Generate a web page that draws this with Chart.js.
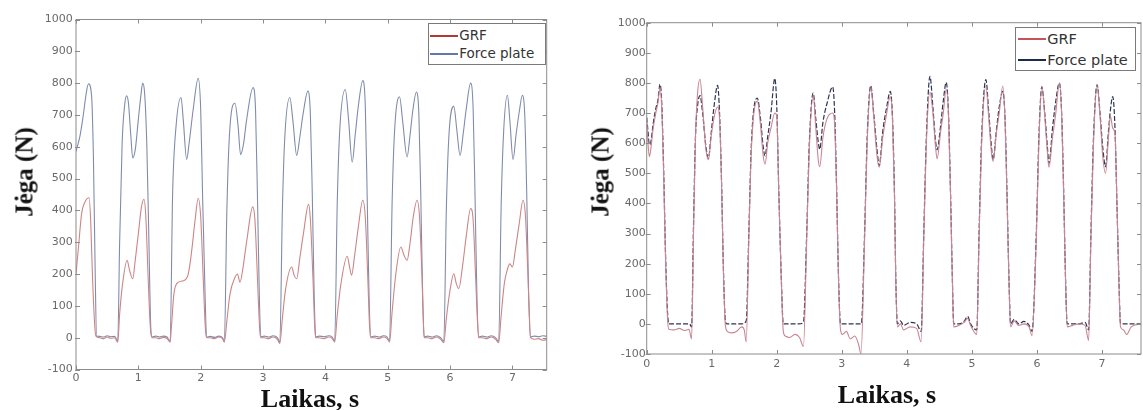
<!DOCTYPE html>
<html>
<head>
<meta charset="utf-8">
<script src="https://cdn.jsdelivr.net/npm/chart.js@4"></script>
<style>
  html, body { margin: 0; padding: 0; background: #fff; }
  #page { position: relative; width: 1143px; height: 410px; overflow: hidden; background: #fff; }
  canvas { position: absolute; top: 0; }
  .axis-title { position: absolute; font-family: "Liberation Serif", "Times New Roman", serif; font-weight: bold; color: #111; white-space: nowrap; line-height: 1; }
  .legend-box { position: absolute; border: 1px solid #7a7a7a; background: #fff; box-sizing: border-box; }
  .legend-line { position: absolute; height: 0; }
  .legend-text { position: absolute; font-family: "DejaVu Sans", sans-serif; color: #333; white-space: nowrap; line-height: 1; transform: translateY(-50%); }
</style>
</head>
<body>
<div id="page">
  <canvas id="left-chart" width="560" height="410" style="left:0"></canvas>
  <canvas id="right-chart" width="568" height="410" style="left:575px"></canvas>
</div>
<script>
(function () {
    "use strict";

    // Time axis ticks (s) and force axis ticks (N)
    const timeTicks = [0, 1, 2, 3, 4, 5, 6, 7];
    const forceTicks = [-100, 0, 100, 200, 300, 400, 500, 600, 700, 800, 900, 1000];
    const seriesNames = ["GRF", "Force plate"];

    // Left plot: estimated GRF vs. force plate, [time s, force N]
    const leftGrf = [
        [0.00, 200], [0.04, 285], [0.09, 390], [0.14, 425], [0.21, 440], [0.235, 370], [0.265, 190], [0.30, 40], [0.32, 5],
        [0.38, 0], [0.44, -3], [0.50, 2], [0.56, -2], [0.62, 0], [0.67, -14],
        [0.70, 74], [0.74, 158], [0.82, 243], [0.86, 211], [0.91, 185], [0.95, 243], [1.00, 327], [1.05, 411], [1.09, 435], [1.12, 380], [1.155, 200], [1.19, 40], [1.215, 0],
        [1.28, 0], [1.34, -3], [1.40, 1], [1.46, -3], [1.51, -14],
        [1.53, 32], [1.57, 137], [1.64, 174], [1.72, 179], [1.80, 200], [1.85, 264], [1.91, 369], [1.96, 438], [2.00, 380], [2.04, 190], [2.075, 30], [2.095, 0],
        [2.15, 0], [2.22, -3], [2.29, 2], [2.35, -3], [2.38, -14],
        [2.42, 53], [2.47, 137], [2.55, 190], [2.59, 200], [2.63, 174], [2.68, 222], [2.74, 306], [2.835, 411], [2.87, 370], [2.91, 190], [2.945, 30], [2.965, 0],
        [3.02, 0], [3.09, -3], [3.16, 2], [3.23, -5], [3.27, -18],
        [3.31, 60], [3.36, 150], [3.46, 222], [3.50, 195], [3.54, 185], [3.59, 250], [3.65, 330], [3.73, 419], [3.76, 370], [3.80, 190], [3.83, 30], [3.845, 0],
        [3.90, 0], [3.98, -3], [4.05, 2], [4.11, -3], [4.15, -14],
        [4.19, 70], [4.25, 170], [4.35, 256], [4.39, 220], [4.42, 196], [4.47, 260], [4.53, 350], [4.60, 432], [4.64, 380], [4.68, 190], [4.71, 30], [4.73, 0],
        [4.79, 0], [4.86, -3], [4.93, 2], [4.99, -3], [5.03, -14],
        [5.07, 80], [5.13, 200], [5.21, 285], [5.26, 260], [5.31, 243], [5.36, 300], [5.41, 380], [5.47, 432], [5.51, 380], [5.55, 190], [5.575, 30], [5.585, 0],
        [5.64, 0], [5.71, -3], [5.78, 2], [5.85, -5], [5.90, -16],
        [5.94, 60], [6.00, 150], [6.06, 201], [6.10, 170], [6.14, 154], [6.20, 225], [6.26, 320], [6.33, 406], [6.37, 370], [6.41, 190], [6.445, 30], [6.46, 0],
        [6.52, 0], [6.59, -3], [6.66, 2], [6.73, -5], [6.78, -16],
        [6.82, 70], [6.87, 170], [6.92, 215], [6.96, 232], [7.00, 222], [7.05, 280], [7.11, 360], [7.17, 432], [7.21, 380], [7.25, 190], [7.28, 30], [7.29, 0],
        [7.35, -5], [7.42, -3], [7.49, -8], [7.55, -6]
    ];
    const leftPlate = [
        [0.00, 585], [0.02, 600], [0.06, 630], [0.11, 690], [0.17, 775], [0.20, 798], [0.25, 760], [0.28, 560], [0.305, 240], [0.33, 5],
        [0.38, 4], [0.44, 2], [0.50, 6], [0.56, 3], [0.62, 4], [0.67, -10],
        [0.70, 300], [0.74, 612], [0.78, 730], [0.81, 760], [0.84, 740], [0.88, 633], [0.91, 565], [0.95, 590], [1.00, 686], [1.04, 760], [1.07, 800], [1.10, 770], [1.135, 612], [1.165, 348], [1.20, 30], [1.22, 2],
        [1.28, 5], [1.34, 2], [1.40, 5], [1.46, 2], [1.51, -12],
        [1.55, 454], [1.605, 665], [1.685, 755], [1.72, 686], [1.775, 560], [1.815, 612], [1.88, 718], [1.96, 815], [2.00, 718], [2.03, 450], [2.07, 137], [2.095, 2],
        [2.15, 4], [2.22, 1], [2.29, 5], [2.35, 0], [2.38, -12],
        [2.42, 400], [2.46, 633], [2.55, 737], [2.60, 665], [2.64, 575], [2.69, 612], [2.73, 675], [2.84, 786], [2.88, 715], [2.91, 450], [2.94, 137], [2.965, 2],
        [3.02, 5], [3.09, 2], [3.16, 6], [3.23, 0], [3.27, -15],
        [3.31, 400], [3.35, 633], [3.43, 755], [3.48, 680], [3.54, 573], [3.59, 630], [3.64, 700], [3.72, 775], [3.76, 700], [3.79, 450], [3.82, 137], [3.845, 2],
        [3.90, 5], [3.98, 3], [4.05, 6], [4.11, 2], [4.15, -10],
        [4.19, 420], [4.23, 650], [4.32, 780], [4.37, 690], [4.43, 552], [4.48, 640], [4.53, 730], [4.60, 808], [4.64, 730], [4.67, 450], [4.70, 137], [4.73, 2],
        [4.79, 5], [4.86, 2], [4.93, 6], [4.99, 2], [5.03, -10],
        [5.07, 420], [5.11, 650], [5.19, 757], [5.24, 680], [5.31, 568], [5.36, 640], [5.40, 710], [5.46, 772], [5.50, 700], [5.53, 450], [5.56, 137], [5.585, 2],
        [5.64, 5], [5.71, 2], [5.78, 6], [5.85, 0], [5.90, -12],
        [5.94, 400], [5.98, 630], [6.06, 727], [6.11, 650], [6.16, 572], [6.21, 640], [6.26, 720], [6.33, 800], [6.37, 720], [6.40, 450], [6.43, 137], [6.46, 2],
        [6.52, 5], [6.59, 2], [6.66, 6], [6.73, 0], [6.78, -12],
        [6.82, 420], [6.86, 650], [6.92, 762], [6.96, 680], [7.01, 560], [7.06, 640], [7.11, 710], [7.16, 762], [7.20, 690], [7.23, 450], [7.26, 137], [7.29, 2],
        [7.35, 5], [7.42, 3], [7.49, 6], [7.55, 4]
    ];

    // Right plot: corrected GRF vs. force plate, [time s, force N]
    const rightGrf = [
        [0.00, 685], [0.02, 600], [0.04, 555], [0.06, 575], [0.10, 650], [0.14, 700], [0.17, 730], [0.205, 785], [0.23, 720], [0.26, 500], [0.29, 210], [0.32, 20], [0.34, -18],
        [0.42, -20], [0.50, -15], [0.58, -22], [0.65, -18], [0.69, -50],
        [0.72, 300], [0.75, 620], [0.78, 760], [0.82, 812], [0.86, 720], [0.91, 580], [0.95, 545], [0.99, 620], [1.04, 690], [1.09, 720], [1.12, 680], [1.15, 470], [1.18, 170], [1.21, -5], [1.24, -25],
        [1.30, -30], [1.38, -25], [1.46, -10], [1.50, -20], [1.53, -60],
        [1.57, 280], [1.61, 580], [1.70, 740], [1.75, 660], [1.79, 560], [1.82, 530], [1.86, 600], [1.91, 650], [1.97, 700], [2.00, 690], [2.03, 440], [2.07, 140], [2.10, -25], [2.13, -40],
        [2.20, -45], [2.28, -35], [2.35, -45], [2.41, -75],
        [2.46, 280], [2.50, 580], [2.56, 760], [2.60, 650], [2.64, 540], [2.66, 522], [2.71, 620], [2.77, 680], [2.86, 700], [2.89, 660], [2.92, 440], [2.95, 140], [2.98, -20], [3.01, -35],
        [3.07, -25], [3.13, -50], [3.20, -40], [3.26, -70], [3.295, -100],
        [3.35, 280], [3.39, 600], [3.445, 790], [3.49, 690], [3.54, 560], [3.575, 520], [3.63, 620], [3.69, 700], [3.745, 755], [3.78, 670], [3.81, 420], [3.83, 140], [3.855, -10],
        [3.90, 0], [3.95, -20], [4.05, -10], [4.15, -15], [4.22, -60],
        [4.26, 280], [4.30, 600], [4.355, 770], [4.40, 700], [4.44, 590], [4.465, 548], [4.52, 640], [4.56, 700], [4.605, 780], [4.64, 690], [4.67, 440], [4.70, 140], [4.72, -10],
        [4.80, -5], [4.88, 5], [4.935, 18], [4.98, -5], [5.075, -35],
        [5.11, 280], [5.15, 600], [5.215, 790], [5.26, 680], [5.30, 570], [5.325, 540], [5.38, 640], [5.42, 700], [5.475, 790], [5.51, 670], [5.54, 420], [5.57, 140], [5.595, -10],
        [5.65, 10], [5.72, -5], [5.80, 0], [5.88, -10], [5.925, -40],
        [5.99, 280], [6.03, 600], [6.075, 790], [6.12, 690], [6.16, 570], [6.185, 520], [6.24, 620], [6.29, 700], [6.345, 800], [6.38, 690], [6.41, 440], [6.44, 140], [6.465, -10],
        [6.55, -5], [6.65, 0], [6.74, -5], [6.795, -55],
        [6.83, 280], [6.87, 600], [6.925, 795], [6.97, 690], [7.01, 560], [7.055, 500], [7.10, 620], [7.13, 690], [7.165, 650], [7.20, 630], [7.23, 400], [7.26, 140], [7.285, -10],
        [7.33, -20], [7.38, -35], [7.45, -10], [7.60, 0]
    ];
    const rightPlate = [
        [0.00, 685], [0.02, 640], [0.04, 595], [0.06, 600], [0.10, 665], [0.14, 715], [0.17, 740], [0.205, 795], [0.23, 740], [0.26, 520], [0.29, 230], [0.32, 40], [0.34, 0],
        [0.42, 0], [0.50, 0], [0.58, 0], [0.66, 0], [0.69, -10],
        [0.72, 330], [0.75, 620], [0.78, 720], [0.82, 758], [0.86, 700], [0.91, 590], [0.95, 550], [0.99, 630], [1.04, 730], [1.09, 792], [1.12, 700], [1.15, 480], [1.18, 180], [1.21, 10], [1.23, 0],
        [1.30, 0], [1.38, 0], [1.46, 0], [1.53, 10],
        [1.57, 300], [1.61, 600], [1.70, 750], [1.75, 680], [1.79, 590], [1.82, 558], [1.86, 620], [1.91, 700], [1.97, 815], [2.00, 720], [2.03, 450], [2.07, 150], [2.10, 0],
        [2.18, 0], [2.26, 0], [2.34, 0], [2.41, 5],
        [2.46, 300], [2.50, 600], [2.56, 766], [2.60, 680], [2.64, 600], [2.66, 580], [2.71, 670], [2.77, 730], [2.86, 787], [2.89, 700], [2.92, 450], [2.95, 150], [2.98, 0],
        [3.06, 0], [3.14, 0], [3.22, 0], [3.30, 0],
        [3.35, 300], [3.39, 620], [3.445, 791], [3.49, 700], [3.54, 580], [3.575, 525], [3.63, 640], [3.69, 720], [3.745, 772], [3.78, 680], [3.81, 430], [3.83, 150], [3.855, 0],
        [3.90, 10], [3.95, -5], [4.05, 5], [4.15, 0], [4.22, -25],
        [4.26, 300], [4.30, 620], [4.355, 822], [4.40, 720], [4.44, 610], [4.465, 578], [4.52, 660], [4.56, 740], [4.605, 802], [4.64, 700], [4.67, 450], [4.70, 150], [4.72, 0],
        [4.80, 0], [4.88, 8], [4.935, 25], [4.98, 0], [5.075, -20],
        [5.11, 300], [5.15, 620], [5.215, 811], [5.26, 700], [5.30, 590], [5.325, 545], [5.38, 650], [5.42, 720], [5.475, 772], [5.51, 680], [5.54, 430], [5.57, 150], [5.595, 0],
        [5.65, 15], [5.72, 0], [5.80, 8], [5.88, -5], [5.925, -25],
        [5.99, 300], [6.03, 620], [6.075, 787], [6.12, 700], [6.16, 590], [6.185, 533], [6.24, 650], [6.29, 740], [6.345, 800], [6.38, 700], [6.41, 450], [6.44, 150], [6.465, 0],
        [6.55, 0], [6.65, 0], [6.74, 5], [6.795, -20],
        [6.83, 300], [6.87, 620], [6.925, 794], [6.97, 700], [7.01, 590], [7.055, 522], [7.10, 640], [7.13, 710], [7.165, 755], [7.20, 650], [7.23, 400], [7.26, 150], [7.285, 0],
        [7.35, 0], [7.45, 0], [7.60, 0]
    ];

    const TICK_FONT = { family: "'DejaVu Sans', sans-serif", size: 11 };
    const TICK_COLOR = '#6a6a6a';
    const FRAME_COLOR = '#8c8c8c';

    /**
     * Draws the boxed axes with short inward ticks on all four sides
     */
    const framePlugin = {
        id: 'frame',
        afterDraw(chart) {
            const ctx = chart.ctx;
            const a = chart.chartArea;
            const xs = chart.scales.x, ys = chart.scales.y;
            const len = 4;
            ctx.save();
            ctx.strokeStyle = FRAME_COLOR;
            ctx.lineWidth = 1;
            ctx.strokeRect(a.left, a.top, a.right - a.left, a.bottom - a.top);
            ctx.beginPath();
            xs.ticks.forEach(t => {
                const px = Math.round(xs.getPixelForValue(t.value)) + 0.5;
                ctx.moveTo(px, a.bottom); ctx.lineTo(px, a.bottom - len);
                ctx.moveTo(px, a.top); ctx.lineTo(px, a.top + len);
            });
            ys.ticks.forEach(t => {
                const py = Math.round(ys.getPixelForValue(t.value)) + 0.5;
                ctx.moveTo(a.left - 1, py); ctx.lineTo(a.left + len, py);
                ctx.moveTo(a.right, py); ctx.lineTo(a.right - len, py);
            });
            ctx.stroke();
            ctx.restore();
        }
    };

    function toPoints(pairs) {
        return pairs.map(p => ({ x: p[0], y: p[1] }));
    }

    /**
     * Builds one of the two force/time plots
     */
    function makeChart(canvasId, grf, plate, cfg) {
        return new Chart(document.getElementById(canvasId), {
            type: 'line',
            data: {
                datasets: [{
                    label: seriesNames[0],
                    data: toPoints(grf),
                    borderColor: cfg.grfColor,
                    borderWidth: 1.1,
                    pointRadius: 0,
                    cubicInterpolationMode: 'monotone'
                },
                {
                    label: seriesNames[1],
                    data: toPoints(plate),
                    borderColor: cfg.plateColor,
                    borderWidth: cfg.plateWidth,
                    borderDash: cfg.plateDash,
                    pointRadius: 0,
                    cubicInterpolationMode: 'monotone'
                }]
            },
            options: {
                responsive: false,
                animation: false,
                layout: { padding: cfg.padding },
                plugins: {
                    legend: { display: false },
                    tooltip: { enabled: false }
                },
                scales: {
                    x: {
                        type: 'linear',
                        min: 0,
                        max: cfg.xMax,
                        afterBuildTicks: scale => { scale.ticks = timeTicks.map(v => ({ value: v })); },
                        afterFit: scale => { scale.height = cfg.xAxisHeight; },
                        grid: { display: false, drawTicks: false },
                        border: { display: false },
                        ticks: {
                            autoSkip: false,
                            maxRotation: 0,
                            padding: cfg.xTickPad,
                            color: TICK_COLOR,
                            font: TICK_FONT,
                            callback: v => String(v)
                        }
                    },
                    y: {
                        min: forceTicks[0],
                        max: forceTicks[forceTicks.length - 1],
                        afterBuildTicks: scale => { scale.ticks = forceTicks.map(v => ({ value: v })); },
                        afterFit: scale => { scale.width = cfg.yAxisWidth; },
                        grid: { display: false, drawTicks: false },
                        border: { display: false },
                        ticks: {
                            padding: cfg.yTickPad,
                            color: TICK_COLOR,
                            font: TICK_FONT,
                            callback: v => String(v)
                        }
                    }
                }
            },
            plugins: [framePlugin]
        });
    }

    /**
     * Adds axis titles and the boxed legend on top of a chart canvas
     */
    function addDecorations(chart, offsetX, cfg) {
        const page = document.getElementById('page');
        const a = chart.chartArea;

        const xt = document.createElement('div');
        xt.className = 'axis-title';
        xt.textContent = 'Laikas, s';
        xt.style.fontSize = '26px';
        xt.style.left = cfg.xTitle[0] + 'px';
        xt.style.top = cfg.xTitle[1] + 'px';
        xt.style.transform = 'translate(-50%, -50%)';
        page.appendChild(xt);

        const yt = document.createElement('div');
        yt.className = 'axis-title';
        yt.textContent = 'Jėga (N)';
        yt.style.fontSize = '25px';
        yt.style.left = cfg.yTitle[0] + 'px';
        yt.style.top = cfg.yTitle[1] + 'px';
        yt.style.transform = 'translate(-50%, -50%) rotate(-90deg)';
        page.appendChild(yt);

        // legend box hangs from the top-right corner of the plot area
        const lg = cfg.legend;
        const boxRight = offsetX + a.right - lg.rightGap;
        const boxLeft = boxRight - lg.width;
        const boxTop = a.top + lg.topGap;
        const box = document.createElement('div');
        box.className = 'legend-box';
        box.style.left = boxLeft + 'px';
        box.style.top = boxTop + 'px';
        box.style.width = lg.width + 'px';
        box.style.height = lg.height + 'px';
        page.appendChild(box);

        chart.data.datasets.forEach((ds, i) => {
            const rowY = boxTop + lg.rows[i];
            const line = document.createElement('div');
            line.className = 'legend-line';
            line.style.left = (boxLeft + 2.5) + 'px';
            line.style.top = (rowY - lg.lineW / 2) + 'px';
            line.style.width = lg.lineLen + 'px';
            line.style.borderTop = lg.lineW + 'px solid ' + lg.colors[i];
            page.appendChild(line);

            const txt = document.createElement('div');
            txt.className = 'legend-text';
            txt.textContent = ds.label;
            txt.style.fontSize = lg.fontSize + 'px';
            txt.style.left = (boxLeft + 2.5 + lg.lineLen + 1) + 'px';
            txt.style.top = rowY + 'px';
            page.appendChild(txt);
        });
    }

    window.addEventListener('load', init);

    function init() {
        const left = makeChart('left-chart', leftGrf, leftPlate, {
            grfColor: '#cc8585',
            plateColor: '#7f8cab',
            plateWidth: 1.1,
            plateDash: [],
            xMax: 7.55,
            padding: { top: 19.5, right: 13.3, bottom: 0, left: 0 },
            xAxisHeight: 40.5,
            yAxisWidth: 76,
            xTickPad: 2.5,
            yTickPad: 3.3
        });
        addDecorations(left, 0, {
            xTitle: [310, 399],
            yTitle: [24, 172],
            legend: {
                width: 118, height: 42.5, rightGap: 1, topGap: 3.2,
                rows: [13.3, 31.6], lineLen: 28, lineW: 2.5, fontSize: 13.5,
                colors: ['#b23a35', '#5f78ad']
            }
        });

        const right = makeChart('right-chart', rightGrf, rightPlate, {
            grfColor: '#c98592',
            plateColor: '#2e3552',
            plateWidth: 1.2,
            plateDash: [5, 2],
            xMax: 7.6,
            padding: { top: 22.7, right: 2, bottom: 0, left: 0 },
            xAxisHeight: 56,
            yAxisWidth: 71.7,
            xTickPad: 4,
            yTickPad: 1
        });
        addDecorations(right, 575, {
            xTitle: [887, 395],
            yTitle: [599.5, 172],
            legend: {
                width: 120.7, height: 44.3, rightGap: 5.3, topGap: 4,
                rows: [12.6, 33.3], lineLen: 28.7, lineW: 2.5, fontSize: 14.5,
                colors: ['#c4545c', '#1e2a4a']
            }
        });
    }
})();
</script>
</body>
</html>
